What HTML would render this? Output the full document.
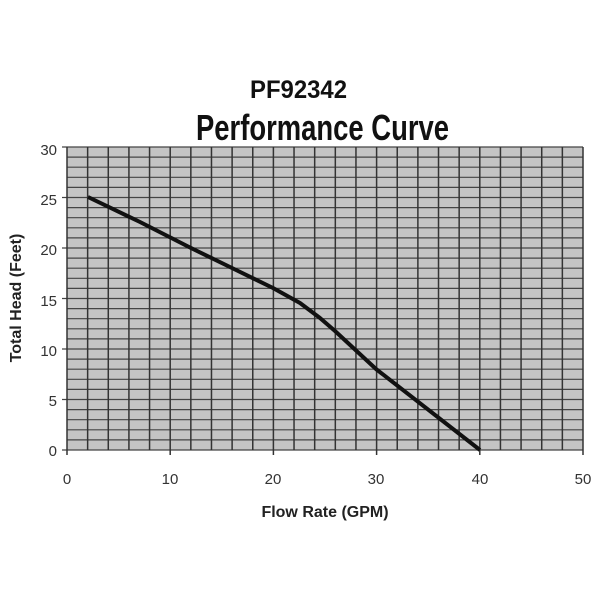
<!DOCTYPE html>
<html><head><style>body{margin:0;background:#fff}svg{display:block}</style></head><body>
<svg width="600" height="600" xmlns="http://www.w3.org/2000/svg" font-family="Liberation Sans, Arial, sans-serif">
<rect width="600" height="600" fill="#fff"/>
<text x="250" y="98" font-size="25" font-weight="bold" textLength="97" lengthAdjust="spacingAndGlyphs" fill="#111">PF92342</text>
<text x="196" y="140" font-size="36" font-weight="bold" textLength="253" lengthAdjust="spacingAndGlyphs" fill="#111">Performance Curve</text>
<rect x="67" y="147" width="516" height="303" fill="#c4c4c4"/>
<g id="h" stroke="#444" stroke-width="1.2"></g>
<g id="v" stroke="#333" stroke-width="1.5"></g>
<polyline points="88,197 140,222 191,248 232,268 273,288 300,303 320,318 335,331 376,369 480,450" fill="none" stroke="#111" stroke-width="4" stroke-linejoin="round"/>
<g font-size="15" fill="#333" text-anchor="end">
<text x="57" y="155">30</text><text x="57" y="205">25</text><text x="57" y="255">20</text><text x="57" y="306">15</text><text x="57" y="356">10</text><text x="57" y="406">5</text><text x="57" y="456">0</text>
</g>
<g font-size="15" fill="#333" text-anchor="middle">
<text x="67" y="484">0</text><text x="170" y="484">10</text><text x="273" y="484">20</text><text x="376" y="484">30</text><text x="480" y="484">40</text><text x="583" y="484">50</text>
</g>
<text x="325" y="517" font-size="16" font-weight="bold" fill="#222" text-anchor="middle">Flow Rate (GPM)</text>
<text transform="translate(21,298) rotate(-90)" font-size="16" font-weight="bold" fill="#222" text-anchor="middle">Total Head (Feet)</text>
<script>
var ns="http://www.w3.org/2000/svg",h=document.getElementById('h'),v=document.getElementById('v');
for(var i=0;i<=30;i++){var y=450-i*10.1,l=document.createElementNS(ns,'line');l.setAttribute('x1',62);l.setAttribute('x2',583);l.setAttribute('y1',y);l.setAttribute('y2',y);if(i%5)l.setAttribute('x1',67);h.appendChild(l);}
for(var j=0;j<=25;j++){var x=67+j*20.64,l=document.createElementNS(ns,'line');l.setAttribute('x1',x);l.setAttribute('x2',x);l.setAttribute('y1',147);l.setAttribute('y2',j%5?450:455);v.appendChild(l);}
</script>
</svg>
</body></html>
